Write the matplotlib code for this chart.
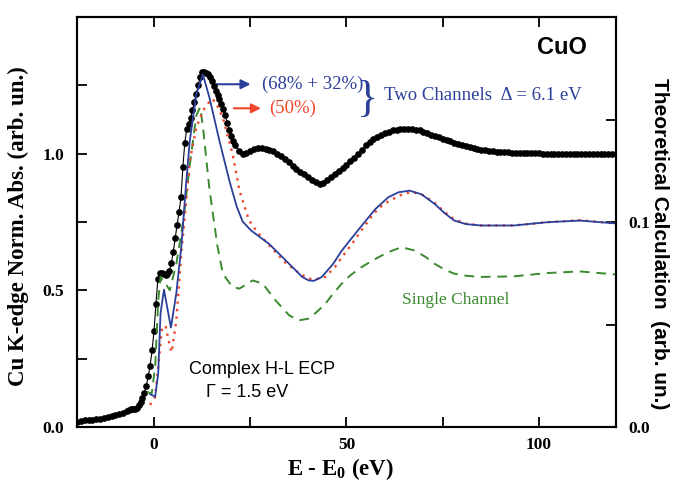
import matplotlib
matplotlib.use("Agg")
import matplotlib.pyplot as plt
from matplotlib.ticker import MultipleLocator, FixedLocator

plt.rcParams["mathtext.fontset"] = "custom"
plt.rcParams["mathtext.rm"] = "Liberation Serif"
plt.rcParams["mathtext.bf"] = "Liberation Serif:bold"

# ---------------- data ----------------
exp_x = [-20, -19, -18, -17, -16, -15, -14, -13, -12, -11, -10, -9, -8, -7,
         -6.5, -6, -5.5, -5, -4.5, -4, -3.5, -3, -2.5, -2, -1.5, -1, -0.5,
         0, 0.5, 1, 1.5, 2, 2.5, 3, 3.5, 4, 4.5, 5, 5.5, 6, 6.5, 7, 7.5,
         8, 8.5, 9, 9.5, 10, 10.5, 11, 11.5, 12, 12.5, 13, 13.5, 14, 14.5,
         15, 15.5, 16, 16.5, 17, 17.5, 18, 18.5, 19, 19.5, 20, 20.5, 21,
         22, 23, 24, 25, 26, 27, 28, 29, 30, 31, 32, 33, 34, 35, 36, 37, 38,
         39, 40, 41, 42, 43, 44, 45, 46, 47, 48, 49, 50, 51, 52, 53, 54, 55,
         56, 57, 58, 59, 60, 61, 62, 63, 64, 65, 66, 67, 68, 69, 70, 71, 72,
         73, 74, 75, 76, 77, 78, 79, 80, 81, 82, 83, 84, 85, 86, 87, 88, 89,
         90, 91, 92, 93, 94, 95, 96, 97, 98, 99, 100, 101, 102, 103, 104, 105,
         106, 107, 108, 109, 110, 111, 112, 113, 114, 115, 116, 117, 118, 119, 120]
exp_y = [0.020, 0.022, 0.024, 0.026, 0.027, 0.029, 0.031, 0.033, 0.036, 0.039,
         0.043, 0.047, 0.052, 0.058, 0.062, 0.065, 0.066, 0.066, 0.070, 0.080,
         0.090, 0.105, 0.125, 0.150, 0.185, 0.225, 0.280, 0.350, 0.450, 0.540,
         0.565, 0.565, 0.560, 0.555, 0.558, 0.572, 0.600, 0.640, 0.690, 0.740,
         0.785, 0.840, 0.950, 1.040, 1.090, 1.110, 1.130, 1.160, 1.190, 1.220,
         1.250, 1.280, 1.298, 1.300, 1.295, 1.290, 1.280, 1.265, 1.248, 1.230,
         1.215, 1.200, 1.180, 1.165, 1.140, 1.112, 1.087, 1.065, 1.045, 1.030,
         1.010, 1.000, 1.003, 1.010, 1.017, 1.020, 1.020, 1.016, 1.012, 1.008,
         1.000, 0.990, 0.980, 0.968, 0.956, 0.945, 0.934, 0.924, 0.914, 0.903,
         0.895, 0.890, 0.893, 0.903, 0.914, 0.926, 0.938, 0.949, 0.960, 0.972,
         0.985, 1.000, 1.015, 1.030, 1.042, 1.052, 1.060, 1.068, 1.075, 1.080,
         1.085, 1.088, 1.090, 1.092, 1.092, 1.090, 1.088, 1.085, 1.080, 1.075,
         1.070, 1.065, 1.060, 1.055, 1.050, 1.045, 1.040, 1.036, 1.032, 1.028,
         1.024, 1.020, 1.017, 1.014, 1.012, 1.010, 1.008, 1.007, 1.006, 1.005,
         1.005, 1.004, 1.004, 1.003, 1.003, 1.002, 1.002, 1.001, 1.001, 1.000,
         1.000, 1.000, 1.000, 1.000, 1.000, 1.000, 1.000, 1.000, 1.000, 1.000,
         1.000, 1.000, 1.000, 1.000, 1.000, 1.000, 1.000, 1.000, 1.000]

two_ch_x = [-1.0, 0.3, 1.1, 1.7, 2.6, 3.4, 4.4, 5.8, 7.1, 8.4, 9.3, 11.0, 12.7,
            14.4, 17.0, 19.6, 21.5, 23.0, 25.2, 29.9, 34.2, 38.5, 40.2, 41.5,
            43.6, 46.5, 48.8, 51.5, 54.5, 57.5, 60.8, 63.5, 66.4, 69.5, 72.9,
            75.5, 78.0, 81.0, 84.9, 93.5, 102.1, 110.6, 120.0]
two_ch_y = [0.0160, 0.0148, 0.0263, 0.0555, 0.0670, 0.0587, 0.0485, 0.0653,
            0.0880, 0.1200, 0.1396, 0.1624, 0.1720, 0.1607, 0.1396, 0.1200,
            0.1075, 0.1003, 0.0959, 0.0893, 0.0813, 0.0732, 0.0715, 0.0713,
            0.0732, 0.0795, 0.0861, 0.0925, 0.0995, 0.1063, 0.1120, 0.1145,
            0.1153, 0.1135, 0.1088, 0.1043, 0.1007, 0.0990, 0.0983, 0.0983,
            0.0999, 0.1007, 0.0993]

half_x = [-1.0, 0.3, 1.1, 2.0, 3.0, 3.8, 4.6, 5.8, 7.1, 8.0, 9.3, 11.0, 12.7,
          14.9, 16.0, 17.9, 20.4, 22.2, 24.7, 27.0, 29.9, 34.2, 38.0, 40.2,
          42.0, 44.5, 47.0, 49.0, 51.5, 53.9, 57.0, 59.5, 61.5, 64.5, 67.0,
          70.0, 72.9, 75.5, 78.0, 81.0, 84.9, 93.5, 102.1, 110.6, 120.0]
half_y = [0.0108, 0.0147, 0.0293, 0.0472, 0.0495, 0.0420, 0.0365, 0.0520,
          0.0847, 0.1027, 0.1300, 0.1461, 0.1543, 0.1600, 0.1587, 0.1507,
          0.1333, 0.1153, 0.1007, 0.0947, 0.0887, 0.0800, 0.0747, 0.0724,
          0.0720, 0.0732, 0.0780, 0.0833, 0.0895, 0.0960, 0.1040, 0.1085,
          0.1107, 0.1135, 0.1147, 0.1130, 0.1093, 0.1048, 0.1013, 0.0992,
          0.0983, 0.0983, 0.0999, 0.1009, 0.0993]

single_x = [-1.9, -0.6, 0.3, 1.1, 1.7, 2.8, 4.1, 5.8, 7.6, 9.5, 11.0, 12.0,
            12.7, 14.4, 15.5, 16.5, 17.9, 20.4, 22.2, 25.6, 28.2, 31.6, 35.1,
            37.6, 40.2, 42.5, 44.5, 46.5, 48.8, 51.0, 53.9, 57.5, 60.8, 64.3,
            67.7, 70.5, 72.9, 75.5, 78.0, 81.0, 84.9, 93.5, 102.1, 110.6, 120.0]
single_y = [0.0172, 0.0164, 0.0293, 0.0617, 0.0732, 0.0705, 0.0667, 0.0796,
            0.1007, 0.1307, 0.1520, 0.1560, 0.1467, 0.1160, 0.1013, 0.0880,
            0.0747, 0.0683, 0.0675, 0.0715, 0.0700, 0.0617, 0.0545, 0.0520,
            0.0529, 0.0565, 0.0601, 0.0650, 0.0700, 0.0740, 0.0780, 0.0820,
            0.0853, 0.0877, 0.0861, 0.0830, 0.0796, 0.0768, 0.0748, 0.0738,
            0.0732, 0.0735, 0.0751, 0.0759, 0.0744]

x_ticks = [0, 50, 100]
left_ticks = [0.0, 0.5, 1.0]
right_ticks = [0.0, 0.1]

# ---------------- style ----------------
SERIF = ["Liberation Serif", "DejaVu Serif"]
SANS = ["Liberation Sans", "DejaVu Sans"]
BLUE = "#2b3f9a"
RED = "#f0452a"
GREEN = "#3a8a2e"

fig = plt.figure(figsize=(6.73, 4.83), dpi=100)
ax = fig.add_axes([0.1144, 0.1159, 0.8009, 0.8489])
ax2 = ax.twinx()

ax.plot(exp_x, exp_y, color="black", lw=0.8, marker="o", ms=3.8,
        mfc="black", mec="black", zorder=5)

ax2.plot(single_x, single_y, color=GREEN, lw=1.4, ls=(0, (5, 3.5)))
ax2.plot(half_x, half_y, color=RED, lw=1.7, ls=(0, (1, 2.2)))
ax2.plot(two_ch_x, two_ch_y, color=BLUE, lw=1.3)

ax.set_xlim(-20, 120)
ax.set_ylim(0, 1.5)
ax2.set_ylim(0, 0.2)

for a in (ax, ax2):
    for s in a.spines.values():
        s.set_linewidth(1.5)

ax.xaxis.set_major_locator(FixedLocator(x_ticks))
ax.xaxis.set_minor_locator(MultipleLocator(25))
ax.yaxis.set_major_locator(FixedLocator(left_ticks))
ax.yaxis.set_minor_locator(MultipleLocator(0.25))
ax2.yaxis.set_major_locator(FixedLocator(right_ticks))
ax2.yaxis.set_minor_locator(MultipleLocator(0.05))

ax.tick_params(axis="x", which="both", direction="in", top=True, bottom=True,
               length=7, width=1.3, pad=7)
ax.tick_params(axis="y", which="both", direction="in", left=True, right=False,
               length=7, width=1.3, pad=9)
ax2.tick_params(axis="y", which="both", direction="in", right=True, left=False,
                length=7, width=1.3, pad=9)

ax.set_xticklabels(["0", "50", "100"])
ax.set_yticklabels(["0.0", "0.5", "1.0"])
ax2.set_yticklabels(["0.0", "0.1"])
for lab in ax.get_xticklabels() + ax.get_yticklabels() + ax2.get_yticklabels():
    lab.set_fontfamily(SERIF)
    lab.set_fontweight("bold")
    lab.set_fontsize(12.5)

ax.set_xlabel(r"E - E$_\mathbf{0}$ (eV)", family=SERIF, fontweight="bold",
              fontsize=16.5, va="center", ha="center")
ax.xaxis.set_label_coords(0.488, -0.102)
ax.set_ylabel("Cu K-edge Norm. Abs. (arb. un.)", family=SERIF,
              fontweight="bold", fontsize=16.5, va="center", ha="center")
ax.yaxis.set_label_coords(-0.109, 0.49)
ax2.set_ylabel("Theoretical Calculation  (arb. un.)", family=SANS,
               fontweight="bold", fontsize=15, rotation=270,
               va="center", ha="center")
ax2.yaxis.set_label_coords(1.08, 0.446)

# annotations
ax.text(105.9, 1.39, "CuO", family=SANS, fontweight="bold", fontsize=17,
        ha="center", va="center")

ax.annotate("", xy=(25.8, 1.254), xytext=(15.5, 1.254),
            arrowprops=dict(arrowstyle="-|>", color=BLUE, lw=1.5,
                            mutation_scale=14))
ax.text(28.0, 1.254, "(68% + 32%)", color=BLUE, family=SERIF, fontsize=13.5,
        ha="left", va="center")
ax.annotate("", xy=(28.5, 1.166), xytext=(20.0, 1.166),
            arrowprops=dict(arrowstyle="-|>", color=RED, lw=1.5,
                            mutation_scale=14))
ax.text(30.0, 1.166, "(50%)", color=RED, family=SERIF, fontsize=13.5,
        ha="left", va="center")
ax.text(55.4, 1.195, "}", color=BLUE, family=SERIF, fontsize=32,
        ha="center", va="center")
ax.text(59.8, 1.213, "Two Channels  \u0394 = 6.1 eV", color=BLUE,
        family=SERIF, fontsize=13.5, ha="left", va="center")
ax.text(64.5, 0.463, "Single Channel", color=GREEN, family=SERIF,
        fontsize=12.5, ha="left", va="center")
ax.text(9.0, 0.21, "Complex H-L ECP", color="black", family=SANS,
        fontsize=13, ha="left", va="center")
ax.text(13.5, 0.128, "\u0393 = 1.5 eV", color="black", family=SANS,
        fontsize=13, ha="left", va="center")

fig.savefig("out.png", dpi=100)
